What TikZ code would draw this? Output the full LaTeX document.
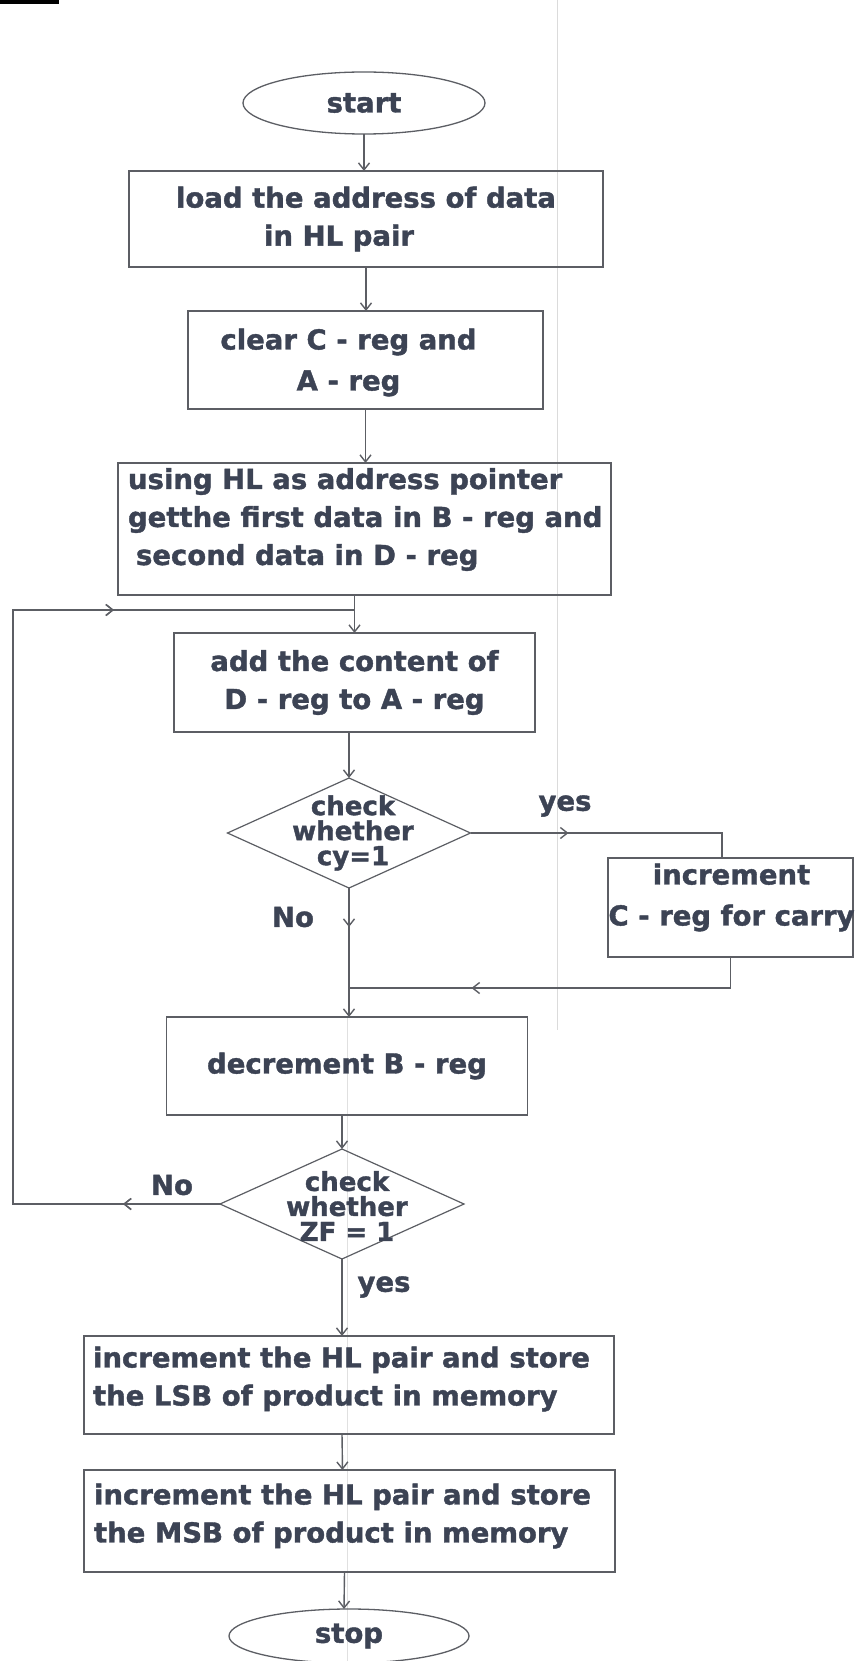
\documentclass[tikz,border=0pt]{standalone}
\usepackage{fontspec}
\setmainfont{DejaVu Sans}[BoldFeatures={FakeBold=1.4}]
\usetikzlibrary{shapes.geometric, arrows.meta, decorations.markings}

\definecolor{inkline}{RGB}{92,94,100}
\definecolor{inktext}{RGB}{60,67,84}

\begin{document}
\begin{tikzpicture}[x=1pt, y=-1pt,
  every node/.style={inner sep=0pt, outer sep=0pt},
  flowline/.style={draw=inkline, line width=1.4pt},
  tip/.style={-{Straight Barb[length=7pt,width=11pt]}},
  arrowat/.style={postaction={decorate}, decoration={markings,
      mark=at position #1 with {\arrow{Straight Barb[length=7pt,width=11pt]}}}},
  box/.style={rectangle, draw=inkline, line width=1.6pt},
  term/.style={ellipse, draw=inkline, line width=1.3pt},
  decide/.style={diamond, draw=inkline, line width=1.2pt},
  lbl/.style={text=inktext, font=\fontsize{27.5}{38}\selectfont\bfseries},
  dlbl/.style={text=inktext, font=\fontsize{26}{25}\selectfont\bfseries, align=center},
]
\fill[white] (0,0) rectangle (854,1661);
\useasboundingbox (0,0) rectangle (854,1661);

% faint fold lines of the sheet
\draw[black!14, line width=0.8pt] (557,0) -- (557,1030);
\draw[black!12, line width=0.8pt] (347,1017) -- (347,1661);
\fill[black] (0,0) rectangle (59,4);

% terminals, process boxes and decisions
\node[term, lbl, minimum width=242pt, minimum height=62pt] (start) at (364,103) {start};

\node[box, minimum width=474pt, minimum height=96pt] (b1) at (366,219) {};
\node[lbl, align=center] (b1-t) at (366,219) {load the address of data\\in HL pair\hspace*{54pt}};

\node[box, minimum width=355pt, minimum height=98pt] (b2) at (365.5,360) {};
\node[lbl, align=center] (b2-t) at (348.5,362.5) {clear C - reg and\\[3pt]A - reg};

\node[box, minimum width=493pt, minimum height=132pt] (b3) at (364.5,529) {};
\node[lbl, align=left, anchor=west] (b3-t) at (128,519.5)
  {using HL as address pointer\\getthe first data in B - reg and\\\hspace*{8pt}second data in D - reg};

\node[box, lbl, align=center, minimum width=361pt, minimum height=99pt] (b4) at (354.5,682.5)
  {add the content of\\D - reg to A - reg};

\node[decide, minimum width=243pt, minimum height=110pt] (d1) at (349,833) {};
\node[dlbl] (d1-t) at (353,833) {check\\whether\\cy=1};

\node[box, minimum width=245pt, minimum height=99pt] (b5) at (730.5,907.5) {};
\node[lbl, align=center] (b5-t) at (731.5,897.5) {increment\\[3pt]C - reg for carry};

\node[box, lbl, minimum width=361pt, minimum height=98pt] (b6) at (347,1066) {decrement B - reg};

\node[decide, minimum width=244pt, minimum height=110pt] (d2) at (342,1204) {};
\node[dlbl] (d2-t) at (347,1206) {check\\whether\\ZF = 1};

\node[box, minimum width=530pt, minimum height=98pt] (b7) at (349,1385) {};
\node[lbl, align=left, anchor=west] (b7-t) at (93,1379)
  {increment the HL pair and store\\the LSB of product in memory};

\node[box, minimum width=531pt, minimum height=102pt] (b8) at (349.5,1521) {};
\node[lbl, align=left, anchor=west] (b8-t) at (94,1516)
  {increment the HL pair and store\\the MSB of product in memory};

\node[term, lbl, minimum width=240pt, minimum height=54pt] (stop) at (349,1636) {stop};

% branch labels
\node[lbl] (yes1) at (565,806) {yes};
\node[lbl] (no1) at (293,917) {No};
\node[lbl] (no2) at (172,1185) {No};
\node[lbl] (yes2) at (384,1287) {yes};

% bend points
\coordinate (loopin) at (b4.north |- 0,610);
\coordinate (looptop) at (13,610);
\coordinate (loopbot) at (13,1204);
\coordinate (yescorner) at (722,833);
\coordinate (backcorner) at (730.5,988);

% main flow
\draw[flowline, tip] (start.south) -- (start.south |- b1.north);
\draw[flowline, tip] (b1.south) -- (b1.south |- b2.north);
\draw[flowline, tip] (b2.south) -- (b2.south |- b3.north);
\draw[flowline] (b3.south -| b4.north) -- (loopin);
\draw[flowline, tip] (loopin) -- (b4.north);
\draw[flowline, tip] (b4.south -| d1.north) -- (d1.north);
\draw[flowline, tip, arrowat=39pt] (d1.south) -- (d1.south |- b6.north);
\draw[flowline, tip] (b6.south -| d2.north) -- (d2.north);
\draw[flowline, tip] (d2.south) -- (d2.south |- b7.north);
\draw[flowline, tip] ([xshift=-7pt]b7.south) -- ([xshift=-7pt]b8.north);
\draw[flowline, tip] ([xshift=-5pt]b8.south) -- ([xshift=-5pt]stop.north);

% carry branch
\draw[flowline, arrowat=98pt] (d1.east) -- (yescorner) -- (yescorner |- b5.north);
\draw[flowline, arrowat=290pt] (b5.south) -- (backcorner) -- (backcorner -| d1.south);

% repeat loop
\draw[flowline, arrowat=97pt, arrowat=902pt] (d2.west) -- (loopbot) -- (looptop) -- (loopin);
\end{tikzpicture}
\end{document}
